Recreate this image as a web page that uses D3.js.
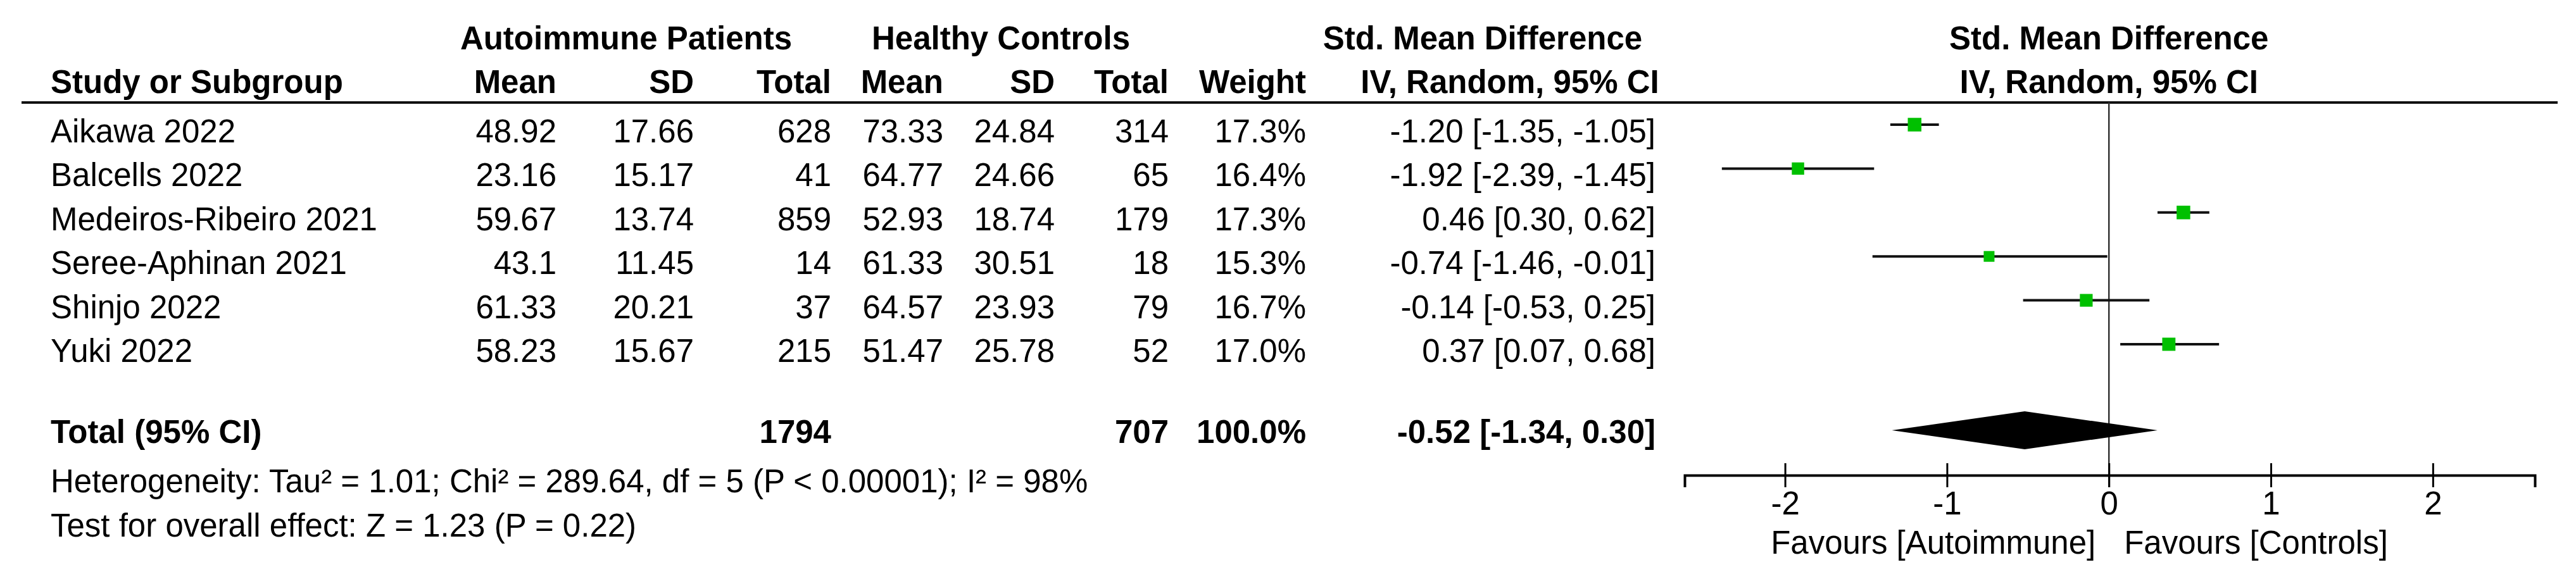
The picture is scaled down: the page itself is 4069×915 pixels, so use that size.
<!DOCTYPE html>
<html>
<head>
<meta charset="utf-8">
<script src="https://cdn.jsdelivr.net/npm/d3@7"></script>
<style>
html,body{margin:0;padding:0;background:#fff;}
svg{display:block;}
text{font-family:"Liberation Sans",Arial,sans-serif;fill:#000;}
</style>
</head>
<body>
<script>
// ---- data ----
const studies = ["Aikawa 2022","Balcells 2022","Medeiros-Ribeiro 2021","Seree-Aphinan 2021","Shinjo 2022","Yuki 2022"];
const autoMean = [48.92, 23.16, 59.67, 43.1, 61.33, 58.23];
const autoSD   = [17.66, 15.17, 13.74, 11.45, 20.21, 15.67];
const autoN    = [628, 41, 859, 14, 37, 215];
const ctrlMean = [73.33, 64.77, 52.93, 61.33, 64.57, 51.47];
const ctrlSD   = [24.84, 24.66, 18.74, 30.51, 23.93, 25.78];
const ctrlN    = [314, 65, 179, 18, 79, 52];
const weights  = [17.3, 16.4, 17.3, 15.3, 16.7, 17.0];
const smd      = [-1.20, -1.92, 0.46, -0.74, -0.14, 0.37];
const ciLow    = [-1.35, -2.39, 0.30, -1.46, -0.53, 0.07];
const ciHigh   = [-1.05, -1.45, 0.62, -0.01, 0.25, 0.68];
const totalAutoN = 1794, totalCtrlN = 707, totalWeight = 100.0;
const totalSMD = -0.52, totalLow = -1.34, totalHigh = 0.30;
const heterogeneity = "Heterogeneity: Tau\u00b2 = 1.01; Chi\u00b2 = 289.64, df = 5 (P < 0.00001); I\u00b2 = 98%";
const overallTest = "Test for overall effect: Z = 1.23 (P = 0.22)";
const axisTicks = [-2, -1, 0, 1, 2];
const favoursLeft = "Favours [Autoimmune]", favoursRight = "Favours [Controls]";

// ---- layout ----
const W = 4069, H = 915, FS = 51;
const svg = d3.select("body").append("svg").attr("width", W).attr("height", H);
svg.append("rect").attr("width", W).attr("height", H).attr("fill", "#fff");

const rowY = d3.scalePoint().domain(studies).range([225, 572]);
const x = d3.scaleLinear().domain([-2.62, 2.63]).range([2661, 4004]);
const fmt2 = v => v.toFixed(2);
const ciStr = (m, l, h) => `${fmt2(m)} [${fmt2(l)}, ${fmt2(h)}]`;

function txt(g, s, xx, yy, anchor, bold) {
  return g.append("text").attr("x", xx).attr("y", yy).attr("text-anchor", anchor || "start")
    .attr("font-size", FS).attr("font-weight", bold ? "bold" : "normal").attr("fill", bold ? "#1a1a1a" : "#000").text(s);
}

// headers
const hd = svg.append("g");
txt(hd, "Autoimmune Patients", 989, 78, "middle", true);
txt(hd, "Healthy Controls", 1581, 78, "middle", true);
txt(hd, "Std. Mean Difference", 2342, 78, "middle", true);
txt(hd, "Std. Mean Difference", x(0), 78, "middle", true);
txt(hd, "Study or Subgroup", 80, 147, "start", true);
txt(hd, "Mean", 879, 147, "end", true);
txt(hd, "SD", 1096, 147, "end", true);
txt(hd, "Total", 1313, 147, "end", true);
txt(hd, "Mean", 1490, 147, "end", true);
txt(hd, "SD", 1666, 147, "end", true);
txt(hd, "Total", 1846, 147, "end", true);
txt(hd, "Weight", 2063, 147, "end", true);
txt(hd, "IV, Random, 95% CI", 2385, 147, "middle", true);
txt(hd, "IV, Random, 95% CI", x(0), 147, "middle", true);

// header rule
svg.append("line").attr("x1", 34).attr("x2", 4040).attr("y1", 162).attr("y2", 162)
  .attr("stroke", "#111").attr("stroke-width", 4);

// zero line
svg.append("line").attr("x1", x(0)).attr("x2", x(0)).attr("y1", 162).attr("y2", 770)
  .attr("stroke", "#333").attr("stroke-width", 2.5);

// study rows
const cols = [
  {arr: studies, x: 80, a: "start", f: d => d},
  {arr: autoMean, x: 879, a: "end", f: d => String(d)},
  {arr: autoSD, x: 1096, a: "end", f: d => String(d)},
  {arr: autoN, x: 1313, a: "end", f: d => String(d)},
  {arr: ctrlMean, x: 1490, a: "end", f: d => String(d)},
  {arr: ctrlSD, x: 1666, a: "end", f: d => String(d)},
  {arr: ctrlN, x: 1846, a: "end", f: d => String(d)},
  {arr: weights, x: 2063, a: "end", f: d => d.toFixed(1) + "%"}
];
const rows = svg.append("g");
cols.forEach(c => {
  rows.selectAll(null).data(c.arr).join("text")
    .attr("x", c.x).attr("y", (d, i) => rowY(studies[i]))
    .attr("text-anchor", c.a).attr("font-size", FS).text(c.f);
});
rows.selectAll(null).data(studies).join("text")
  .attr("x", 2615).attr("y", d => rowY(d)).attr("text-anchor", "end").attr("font-size", FS)
  .text((d, i) => ciStr(smd[i], ciLow[i], ciHigh[i]));

// forest marks
const size = d3.scaleLinear().domain([15.3, 17.3]).range([17, 21.5]);
const marks = svg.append("g");
marks.selectAll(null).data(studies).join("line")
  .attr("x1", (d, i) => x(ciLow[i])).attr("x2", (d, i) => x(ciHigh[i]))
  .attr("y1", d => rowY(d) - 28).attr("y2", d => rowY(d) - 28)
  .attr("stroke", "#111").attr("stroke-width", 4);
marks.selectAll(null).data(studies).join("rect")
  .attr("x", (d, i) => x(smd[i]) - size(weights[i]) / 2)
  .attr("y", (d, i) => rowY(d) - 28 - size(weights[i]) / 2)
  .attr("width", (d, i) => size(weights[i])).attr("height", (d, i) => size(weights[i]))
  .attr("fill", "#00c000");

// total row
const tg = svg.append("g");
txt(tg, "Total (95% CI)", 80, 700, "start", true);
txt(tg, String(totalAutoN), 1313, 700, "end", true);
txt(tg, String(totalCtrlN), 1846, 700, "end", true);
txt(tg, totalWeight.toFixed(1) + "%", 2063, 700, "end", true);
txt(tg, ciStr(totalSMD, totalLow, totalHigh), 2615, 700, "end", true);
const dy = 680, dh = 30;
svg.append("path")
  .attr("d", `M${x(totalLow)},${dy} L${x(totalSMD)},${dy - dh} L${x(totalHigh)},${dy} L${x(totalSMD)},${dy + dh} Z`)
  .attr("fill", "#000");

// footnotes
txt(svg, heterogeneity, 80, 778, "start", false);
txt(svg, overallTest, 80, 848, "start", false);

// axis
const axisY = 751;
const ax = svg.append("g").attr("transform", `translate(0,${axisY})`)
  .call(d3.axisBottom(x).tickValues(axisTicks).tickSizeOuter(0).tickSize(19).tickFormat(d => String(d)));
ax.select(".domain").attr("stroke", "#000").attr("stroke-width", 4);
ax.selectAll(".tick line").attr("y1", -19).attr("y2", 19).attr("stroke", "#000").attr("stroke-width", 3);
ax.selectAll(".tick text").attr("y", 62).attr("dy", 0).attr("font-size", FS)
  .attr("font-family", "'Liberation Sans',Arial,sans-serif").attr("fill", "#000");

txt(svg, favoursLeft, x(0) - 21, 875, "end", false);
txt(svg, favoursRight, x(0) + 24, 875, "start", false);
</script>
</body>
</html>
